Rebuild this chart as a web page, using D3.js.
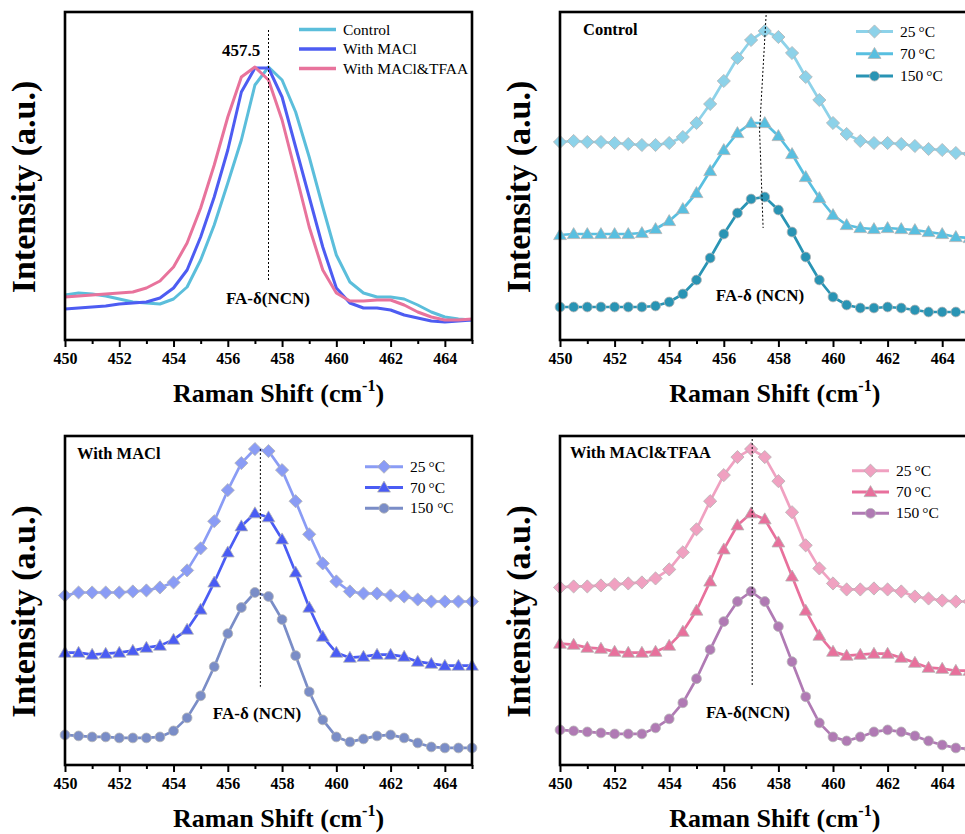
<!DOCTYPE html>
<html><head><meta charset="utf-8">
<script src="https://cdn.jsdelivr.net/npm/d3@7"></script>
<style>
html,body{margin:0;padding:0;background:#fff;}
svg{display:block;font-family:"Liberation Serif","Times New Roman",serif;}
</style></head>
<body>
<svg id="chart" width="965" height="834"></svg>
<script>
// ---------------- data ----------------
const shift = [450,450.5,451,451.5,452,452.5,453,453.5,454,454.5,455,455.5,456,456.5,457,457.5,458,458.5,459,459.5,460,460.5,461,461.5,462,462.5,463,463.5,464,464.5,465];
const xTicks = [450,452,454,456,458,460,462,464];
const xMinor = [451,453,455,457,459,461,463,465];

// panel (a): comparison at room temperature
const compareNames = ["Control","With MACl","With MACl&TFAA"];
const compareControl = [45,47,46,44,41,38,37,36,41,53,80,115,157,200,255,273,260,228,183,133,85,58,47,43,43,41,35,28,23,21,20];
const compareMACl    = [31,32,33,34,36,37,38,42,52,70,103,143,190,248,272,272,243,193,143,93,52,37,32,32,30,25,22,19,18,19,20];
const compareTFAA    = [43,44,45,46,47,48,52,59,73,97,132,175,223,263,273,260,220,167,113,70,47,39,39,40,40,35,28,23,20,20,21];

// temperature series
const tempLabels = ["25\u2009°C","70\u2009°C","150\u2009°C"];
const tempLabelsMACl = ["25\u2009°C","70\u2009°C","150 °C"];
const control25  = [198,199,198,198,197,196,195,195,197,203,217,236,259,282,300,309,303,287,263,240,217,206,199,197,197,196,194,191,190,187,186];
const control70  = [105,106,106,106,106,106,107,111,119,131,147,169,190,207,217,217,204,186,163,142,125,115,112,111,112,111,110,108,106,103,102];
const control150 = [33,33,33,33,33,33,33,34,38,46,60,82,106,127,141,143,130,108,83,60,43,35,32,32,33,32,30,28,28,28,28];
const macl25  = [169,172,172,172,172,173,174,177,182,194,216,243,274,301,315,313,294,263,230,201,183,173,171,171,169,168,165,163,163,163,163];
const macl70  = [112,112,110,111,112,114,117,119,125,135,155,182,212,238,251,247,225,192,157,128,112,107,108,110,110,108,103,101,99,99,99];
const macl150 = [30,29,28,28,27,27,27,28,34,47,69,98,131,157,172,168,145,109,73,45,28,23,26,29,30,27,22,18,17,17,17];
const tfaa25  = [177,178,178,179,180,181,182,186,195,212,235,263,289,307,315,307,283,252,219,196,181,175,175,176,175,173,168,166,164,163,163];
const tfaa70  = [121,120,117,116,113,112,112,113,119,133,154,183,215,239,251,245,222,188,154,129,113,109,110,111,111,107,102,97,96,94,94];
const tfaa150 = [35,34,33,32,31,31,31,37,46,62,86,115,143,163,173,163,138,103,68,42,28,24,28,33,35,33,29,24,20,17,16];

// peak guide lines [shift, intensity]
const guideA = [[457.5,310],[457.5,58]];
const guideB = [[457.55,325],[457.31,210],[457.44,112]];
const guideC = [[457.2,315],[457.2,78]];
const guideD = [[457.04,325],[457.04,78]];

// ---------------- drawing ----------------
const svg = d3.select("#chart");
const yDomain = [0, 328];

const markerTypes = {
  diamond: {draw(ctx, r){ ctx.moveTo(0,-r); ctx.lineTo(r,0); ctx.lineTo(0,r); ctx.lineTo(-r,0); ctx.closePath(); }},
  triangle:{draw(ctx, r){ ctx.moveTo(0,-r); ctx.lineTo(r,r*0.72); ctx.lineTo(-r,r*0.72); ctx.closePath(); }},
  circle:  {draw(ctx, r){ ctx.moveTo(r,0); ctx.arc(0,0,r,0,2*Math.PI); }}
};
const markerSize = {diamond:6.6, triangle:6.4, circle:4.9};

function panel(cfg){
  const g = svg.append("g");
  const x = d3.scaleLinear().domain([450,465]).range([cfg.x0, cfg.x1]);
  const y = d3.scaleLinear().domain(yDomain).range([cfg.y1, cfg.y0]);

  // axis ticks
  const ax = g.append("g").attr("transform",`translate(0,${cfg.y1})`)
    .call(d3.axisBottom(x).tickValues(xTicks).tickSize(7).tickPadding(6).tickFormat(d3.format("d")));
  ax.attr("font-family","Liberation Serif");
  ax.select(".domain").remove();
  ax.selectAll(".tick line").attr("stroke","#000").attr("stroke-width",2);
  ax.selectAll(".tick text").attr("font-family","Liberation Serif").attr("font-weight","bold")
    .attr("font-size",16).attr("fill","#000");
  const axm = g.append("g").attr("transform",`translate(0,${cfg.y1})`)
    .call(d3.axisBottom(x).tickValues(xMinor).tickSize(4).tickFormat(""));
  axm.select(".domain").remove();
  axm.selectAll(".tick line").attr("stroke","#000").attr("stroke-width",2);

  // series
  const line = d3.line().x((d,i)=>x(shift[i])).y(d=>y(d));
  cfg.series.forEach(s=>{
    g.append("path").attr("d", line(s.values)).attr("fill","none")
      .attr("stroke", s.color).attr("stroke-width", s.marker ? 2.7 : 3).attr("stroke-linejoin","round");
    if (s.marker){
      const sym = d3.symbol().type(markerTypes[s.marker]).size(markerSize[s.marker]);
      g.selectAll(null).data(s.values).enter().append("path")
        .attr("d", sym).attr("transform",(d,i)=>`translate(${x(shift[i])},${y(d)})`)
        .attr("fill", s.color).attr("stroke","#b4b4b4").attr("stroke-width",0.8);
    }
  });

  // guide
  g.append("path").attr("d", d3.line().x(d=>x(d[0])).y(d=>y(d[1]))(cfg.guide))
    .attr("fill","none").attr("stroke","#000").attr("stroke-width",1).attr("stroke-dasharray","2,2");

  // FA label
  g.append("text").attr("x",cfg.faX).attr("y",cfg.faY).attr("text-anchor","middle")
    .attr("font-weight","bold").attr("font-size",17).text(cfg.faText);

  // frame
  g.append("rect").attr("x",cfg.x0).attr("y",cfg.y0).attr("width",cfg.x1-cfg.x0).attr("height",cfg.y1-cfg.y0)
    .attr("fill","none").attr("stroke","#000").attr("stroke-width",2.6);

  // axis titles
  const xt = g.append("text").attr("x",(cfg.x0+cfg.x1)/2+10).attr("y",cfg.y1+62)
    .attr("text-anchor","middle").attr("font-weight","bold").attr("font-size",26);
  xt.append("tspan").text("Raman Shift (cm");
  xt.append("tspan").attr("font-size",16).attr("dy",-11).text("-1");
  xt.append("tspan").attr("dy",11).text(")");
  g.append("text").attr("transform",`translate(${cfg.x0-30},${(cfg.y0+cfg.y1)/2+11}) rotate(-90)`)
    .attr("text-anchor","middle").attr("font-weight","bold").attr("font-size",34).text("Intensity (a.u.)");

  // panel title
  if (cfg.title){
    g.append("text").attr("x",cfg.titleX).attr("y",cfg.titleY).attr("font-weight","bold")
      .attr("font-size",16.5).text(cfg.title);
  }

  // legend
  cfg.series.forEach((s,i)=>{
    const ly = cfg.legY + i*cfg.legGap;
    g.append("line").attr("x1",cfg.legX).attr("x2",cfg.legX+cfg.legW).attr("y1",ly).attr("y2",ly)
      .attr("stroke",s.color).attr("stroke-width", s.marker ? 3 : 3.5);
    if (s.marker){
      const sym = d3.symbol().type(markerTypes[s.marker]).size(markerSize[s.marker]);
      g.append("path").attr("d",sym).attr("transform",`translate(${cfg.legX+cfg.legW/2},${ly})`)
        .attr("fill",s.color).attr("stroke","#b4b4b4").attr("stroke-width",0.8);
    }
    g.append("text").attr("x",cfg.legX+cfg.legW+7).attr("y",ly+5).attr("font-size",15.5).text(s.name);
  });
  return {x,y,g};
}

// (a)
const pa = panel({
  x0:65, x1:472, y0:12, y1:340,
  series:[
    {name:compareNames[0], values:compareControl, color:"#5bbedb"},
    {name:compareNames[1], values:compareMACl, color:"#4d5cf2"},
    {name:compareNames[2], values:compareTFAA, color:"#e8739c"}
  ],
  guide:guideA, faX:268, faY:304, faText:"FA-δ(NCN)",
  legX:299, legW:37, legY:29.5, legGap:19.5
});
pa.g.append("text").attr("x",241).attr("y",56).attr("text-anchor","middle")
  .attr("font-weight","bold").attr("font-size",17).text("457.5");

// (b) Control
panel({
  x0:560, x1:969.5, y0:12, y1:340,
  series:[
    {name:tempLabels[0], values:control25, color:"#8dd2e9", marker:"diamond"},
    {name:tempLabels[1], values:control70, color:"#58bfe0", marker:"triangle"},
    {name:tempLabels[2], values:control150, color:"#2994b4", marker:"circle"}
  ],
  guide:guideB, faX:760, faY:301, faText:"FA-δ (NCN)",
  title:"Control", titleX:583, titleY:35,
  legX:856, legW:37, legY:31.5, legGap:22.3
});

// (c) With MACl
panel({
  x0:65, x1:472, y0:436, y1:765,
  series:[
    {name:tempLabelsMACl[0], values:macl25, color:"#8a9cf5", marker:"diamond"},
    {name:tempLabelsMACl[1], values:macl70, color:"#4a5cf4", marker:"triangle"},
    {name:tempLabelsMACl[2], values:macl150, color:"#7a8dc7", marker:"circle"}
  ],
  guide:guideC, faX:257, faY:719, faText:"FA-δ (NCN)",
  title:"With MACl", titleX:77, titleY:459,
  legX:365, legW:38, legY:466.7, legGap:20.8
});

// (d) With MACl&TFAA
panel({
  x0:560, x1:969.5, y0:436, y1:765,
  series:[
    {name:tempLabels[0], values:tfaa25, color:"#f0a1c1", marker:"diamond"},
    {name:tempLabels[1], values:tfaa70, color:"#e8709c", marker:"triangle"},
    {name:tempLabels[2], values:tfaa150, color:"#b07ab4", marker:"circle"}
  ],
  guide:guideD, faX:748, faY:718, faText:"FA-δ(NCN)",
  title:"With MACl&TFAA", titleX:570, titleY:458,
  legX:852, legW:37, legY:470.7, legGap:21.3
});
</script>
</body></html>
